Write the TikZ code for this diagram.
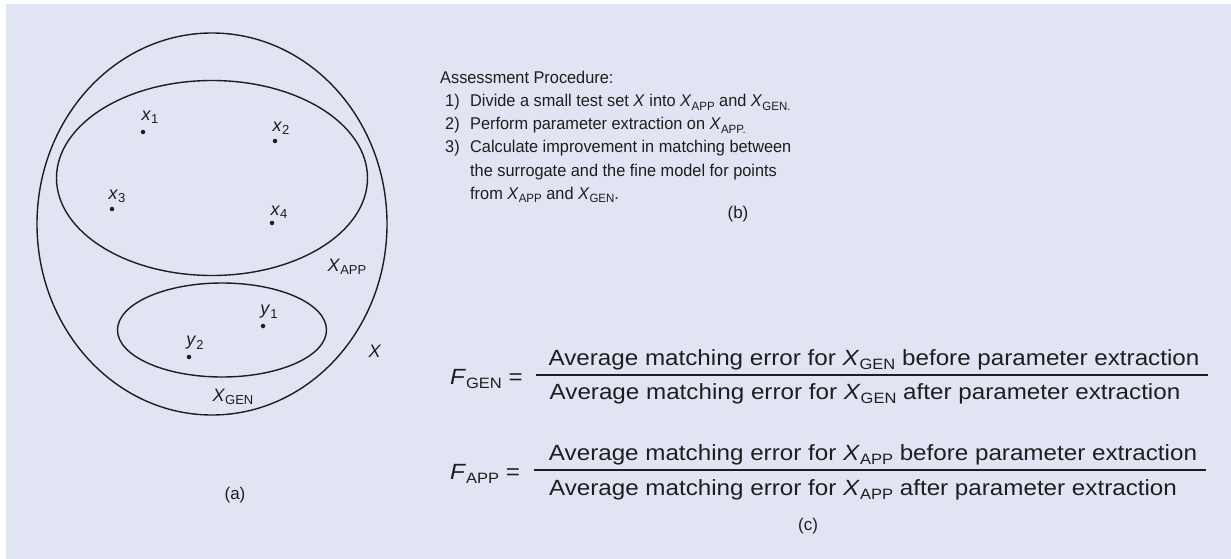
\documentclass[tikz,border=0pt]{standalone}
\usepackage{fontspec}
\setmainfont{Liberation Sans}
\newfontfamily\wide{Liberation Sans}[FakeStretch=1.1]
\newfontfamily\proc{Liberation Sans}[FakeStretch=0.96]
\usetikzlibrary{shapes.geometric}
\definecolor{bg}{HTML}{E1E5F3}
\definecolor{ink}{HTML}{1E1E1E}
\newcommand\lab[2]{\textit{#1}\raisebox{-0.35ex}{\fontsize{13}{13}\selectfont #2}}
\newcommand\BX[1]{\textit{X}\raisebox{-0.35ex}{\fontsize{15}{15}\selectfont #1}}
\newcommand\SX[1]{\textit{X}\raisebox{-0.35ex}{\fontsize{12}{12}\selectfont #1}}
\begin{document}
\begin{tikzpicture}[x=1pt,y=-1pt,
  setshape/.style={draw=ink, line width=1.4pt, ellipse, inner sep=0pt},
  dot/.style={circle, fill=ink, inner sep=0pt, minimum size=4.5pt},
  lbl/.style={font=\fontsize{18}{18}\selectfont, text=ink, inner sep=0pt},
  ptxt/.style={font=\proc\fontsize{17}{17}\selectfont, text=ink, inner sep=0pt, anchor=base west},
  pctr/.style={font=\fontsize{17}{17}\selectfont, text=ink, inner sep=0pt, anchor=base},
  txt/.style={font=\wide\fontsize{22}{22}\selectfont, text=ink, inner sep=0pt, anchor=base west},
  ctr/.style={font=\wide\fontsize{22}{22}\selectfont, text=ink, inner sep=0pt, anchor=base},
  fracline/.style={draw=ink, line width=1.3pt}]
\fill[white] (0,0) rectangle (1231,559);
\fill[bg] (6,4) rectangle (1231,559);
\useasboundingbox (0,0) rectangle (1231,559);
% (a)
\node[setshape, minimum width=350pt, minimum height=382pt] (X) at (212,224) {};
\node[setshape, minimum width=311pt, minimum height=195pt] (XA) at (212,178) {};
\node[setshape, minimum width=209pt, minimum height=94pt] (XG) at (222,330) {};
\node[dot] (p1) at (143,132) {};
\node[dot] (p2) at (275,141) {};
\node[dot] (p3) at (112,209) {};
\node[dot] (p4) at (272,223) {};
\node[dot] (q1) at (263,326) {};
\node[dot] (q2) at (189,357) {};
\node[lbl] (l1) at (150,117) {\lab{x}{1}};
\node[lbl] (l2) at (281,128) {\lab{x}{2}};
\node[lbl] (l3) at (117,196) {\lab{x}{3}};
\node[lbl] (l4) at (279,212) {\lab{x}{4}};
\node[lbl] (m1) at (269,312) {\lab{y}{1}};
\node[lbl] (m2) at (195,343) {\lab{y}{2}};
\node[lbl] (LA) at (347,267) {\lab{X}{APP}};
\node[lbl] (LX) at (375,351) {\textit{X}};
\node[lbl] (LG) at (233,397) {\lab{X}{GEN}};
\node[pctr] (ca) at (235,499) {(a)};
% (b)
\node[ptxt] (t0) at (440,84) {Assessment Procedure:};
\node[ptxt] (n1) at (445,107) {1)};
\node[ptxt] (t1) at (470,107) {Divide a small test set \textit{X} into \SX{APP} and \SX{GEN.}};
\node[ptxt] (n2) at (445,130) {2)};
\node[ptxt] (t2) at (470,130) {Perform parameter extraction on \SX{APP.}};
\node[ptxt] (n3) at (445,153) {3)};
\node[ptxt] (t3) at (470,153) {Calculate improvement in matching between};
\node[ptxt] (t4) at (470,176) {the surrogate and the fine model for points};
\node[ptxt] (t5) at (470,199) {from \SX{APP} and \SX{GEN}.};
\node[pctr] (cb) at (738,218) {(b)};
% (c)
\node[txt] (FG) at (450,384) {\textit{F}\raisebox{-0.35ex}{\fontsize{15}{15}\selectfont GEN} =};
\coordinate (g1) at (536,375);
\coordinate (g2) at (1208,375);
\draw[fracline] (g1) -- (g2);
\node[ctr] (gn) at (874,365) {Average matching error for \BX{GEN} before parameter extraction};
\node[ctr] (gd) at (865,399) {Average matching error for \BX{GEN} after parameter extraction};
\node[txt] (FA) at (450,479) {\textit{F}\raisebox{-0.35ex}{\fontsize{15}{15}\selectfont APP} =};
\coordinate (a1) at (534,470);
\coordinate (a2) at (1206,470);
\draw[fracline] (a1) -- (a2);
\node[ctr] (an) at (873,460) {Average matching error for \BX{APP} before parameter extraction};
\node[ctr] (ad) at (863,495) {Average matching error for \BX{APP} after parameter extraction};
\node[pctr] (cc) at (808,530) {(c)};
\end{tikzpicture}
\end{document}
